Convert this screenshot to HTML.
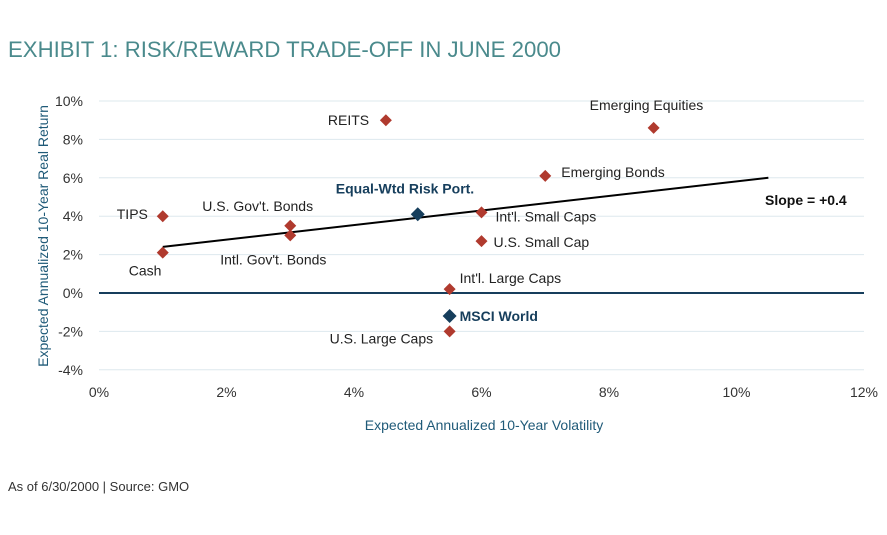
<!DOCTYPE html>
<html><head><meta charset="utf-8"><style>
body{margin:0;background:#fff;width:887px;height:530px;overflow:hidden;font-family:"Liberation Sans",sans-serif;}
svg text{font-family:"Liberation Sans",sans-serif;}
</style></head><body>
<svg width="887" height="530">
<text x="8" y="57" font-size="22" fill="#4a8a8c" textLength="553" lengthAdjust="spacingAndGlyphs">EXHIBIT 1: RISK/REWARD TRADE-OFF IN JUNE 2000</text>
<g id="grid"></g><g id="axes"></g><g id="marks"></g>
<text x="484" y="430" font-size="14" fill="#1f5a78" text-anchor="middle">Expected Annualized 10-Year Volatility</text>
<text transform="translate(48,236) rotate(-90)" font-size="14" fill="#1f5a78" text-anchor="middle">Expected Annualized 10-Year Real Return</text>
<text x="8" y="491" font-size="13" fill="#333">As of 6/30/2000 | Source: GMO</text>
</svg>
<script>
const xTicks=[0,2,4,6,8,10,12];
const yTicks=[10,8,6,4,2,0,-2,-4];
const names=["REITS","Emerging Equities","Emerging Bonds","TIPS","Cash","U.S. Gov't. Bonds","Intl. Gov't. Bonds","Equal-Wtd Risk Port.","Int'l. Small Caps","U.S. Small Cap","Int'l. Large Caps","MSCI World","U.S. Large Caps"];
const vols=[4.5,8.7,7.0,1.0,1.0,3.0,3.0,5.0,6.0,6.0,5.5,5.5,5.5];
const rets=[9.0,8.6,6.1,4.0,2.1,3.5,3.0,4.1,4.2,2.7,0.2,-1.2,-2.0];
const highlight=[0,0,0,0,0,0,0,1,0,0,0,1,0];
const labelDx=[-58,-64,16,-46,-34,-88,-70,-82,14,12,10,10,-120];
const labelDy=[5,-18,1,3,23,-15,29,-21,9,6,-6,5,12];
const lineX=[1.0,10.5];
const lineY=[2.4,6.0];
const ns="http://www.w3.org/2000/svg";
const X=v=>99+v*63.75, Y=v=>293-v*19.2;
function mk(t,a,p){const e=document.createElementNS(ns,t);for(const k in a)e.setAttribute(k,a[k]);p.appendChild(e);return e;}
const g=document.getElementById('grid'),ax=document.getElementById('axes'),m=document.getElementById('marks');
yTicks.forEach(v=>{
 const l=mk('line',{x1:X(0),x2:X(12),y1:Y(v),y2:Y(v),stroke:v===0?'#163e5c':'#dde8ee','stroke-width':v===0?2:1},g);
 
 
 const t=mk('text',{x:83,y:Y(v)+5,'font-size':14,fill:'#333','text-anchor':'end'},ax);t.textContent=v+'%';
 
 
});
xTicks.forEach(v=>{
 const t=mk('text',{x:X(v),y:397,'font-size':14,fill:'#333','text-anchor':'middle'},ax);t.textContent=v+'%';
 
 
});
const tl=mk('line',{x1:X(lineX[0]),y1:Y(lineY[0]),x2:X(lineX[1]),y2:Y(lineY[1]),stroke:'#000','stroke-width':2},m);


const st=mk('text',{x:765,y:205,'font-size':14,'font-weight':'bold',fill:'#111'},m);st.textContent='Slope = +0.4';


names.forEach((n,i)=>{
 const x=X(vols[i]),y=Y(rets[i]),h=highlight[i],s=h?7:6;
 const p=mk('polygon',{points:`${x},${y-s} ${x+s},${y} ${x},${y+s} ${x-s},${y}`,fill:h?'#163e5c':'#b03a2e'},m);
 
 
 const t=mk('text',{x:x+labelDx[i],y:y+labelDy[i],'font-size':14,fill:h?'#163e5c':'#222','font-weight':h?'bold':'normal'},m);t.textContent=n;
 
 
});
</script>
</body></html>
